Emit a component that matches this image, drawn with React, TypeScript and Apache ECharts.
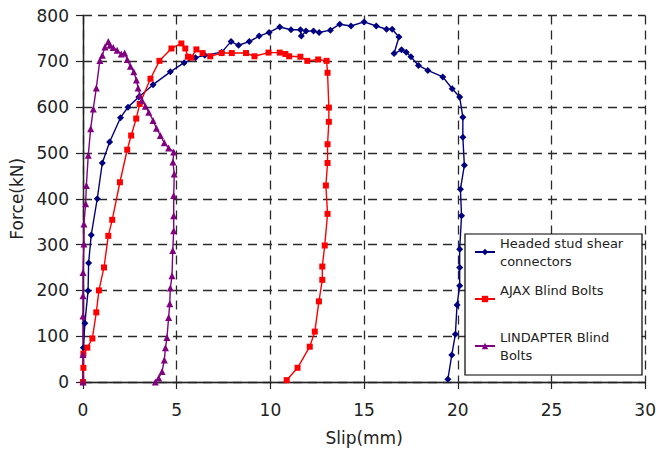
import React, { useEffect, useRef } from "react";
import * as echarts from "echarts";

const seriesNames = [
  "Headed stud shear connectors",
  "AJAX Blind Bolts",
  "LINDAPTER Blind Bolts",
];
const legendLines: Record<string, string> = {
  "Headed stud shear connectors": "Headed stud shear\nconnectors",
  "AJAX Blind Bolts": "AJAX Blind Bolts\n ",
  "LINDAPTER Blind Bolts": "LINDAPTER Blind\nBolts",
};
const seriesColors = ["#000080", "#ff0000", "#800080"];
const seriesSymbols = ["diamond", "rect", "triangle"];
const seriesSymbolSizes = [7, 6, 7];

const xTicks = { min: 0, max: 30, interval: 5 };
const yTicks = { min: 0, max: 800, interval: 100 };

// [slip (mm), force (kN)]
const headedStud = [
  [0, 0], [0.02, 75], [0.1, 128], [0.27, 199], [0.3, 260], [0.44, 321], [0.76, 400],
  [1.03, 478], [1.42, 524], [2.0, 577], [2.4, 600], [2.98, 622], [3.74, 649], [4.66, 677],
  [5.4, 697], [6.0, 708], [6.5, 713], [7.4, 720], [7.9, 743], [8.3, 735], [8.87, 743],
  [9.4, 755], [9.93, 763], [10.5, 775], [11.1, 769], [11.6, 769], [11.65, 755], [11.9, 766],
  [12.3, 766], [12.6, 763], [13.2, 768], [13.7, 781], [14.3, 777], [15.0, 786], [15.65, 777],
  [16.2, 770], [16.5, 770], [16.86, 753], [16.6, 717], [17.0, 725], [17.25, 720], [17.5, 710],
  [17.9, 691], [18.4, 680], [19.2, 666], [19.7, 640], [20.1, 622], [20.27, 578], [20.27, 534],
  [20.35, 473], [20.14, 421], [20.2, 363], [20.1, 290], [20.1, 250], [20.1, 210], [19.96, 168],
  [19.87, 104], [19.68, 59], [19.47, 6],
];

const ajaxBolts = [
  [0, 0], [0.02, 31], [0.02, 62], [0.23, 75], [0.5, 95], [0.71, 152], [0.85, 200],
  [1.12, 250], [1.35, 319], [1.56, 354], [1.97, 436], [2.36, 507], [2.57, 538], [2.84, 575],
  [3.03, 607], [3.6, 662], [4.08, 701], [4.72, 728], [5.25, 739], [5.46, 728], [5.6, 710],
  [5.78, 708], [6.05, 726], [6.38, 718], [6.79, 711], [7.4, 718], [7.94, 718], [8.7, 718],
  [9.15, 711], [9.9, 719], [10.5, 719], [10.8, 716], [11.0, 711], [11.6, 710], [11.97, 701],
  [12.55, 704], [13.0, 701], [13.05, 675], [13.12, 599], [13.12, 568], [13.05, 519],
  [13.05, 478], [12.96, 429], [13.05, 367], [12.9, 298], [12.77, 252], [12.77, 223],
  [12.59, 176], [12.37, 110], [12.1, 77], [11.45, 31], [10.87, 4],
];

const lindapterBolts = [
  [0, 0], [0, 60], [0.0, 144], [0.0, 188], [0.0, 239], [0.05, 301], [0.05, 345], [0.14, 389],
  [0.18, 429], [0.28, 495], [0.41, 553], [0.55, 596], [0.71, 642], [0.9, 702], [1.03, 713],
  [1.17, 731], [1.35, 743], [1.44, 735], [1.61, 730], [1.82, 724], [2.04, 716], [2.22, 718],
  [2.36, 704], [2.53, 689], [2.71, 677], [2.85, 659], [2.94, 642], [3.03, 626], [3.15, 615],
  [3.33, 602], [3.51, 589], [3.74, 571], [3.92, 554], [4.13, 538], [4.34, 522], [4.57, 511],
  [4.84, 502], [4.8, 480], [4.87, 454], [4.84, 407], [4.84, 363], [4.84, 330], [4.79, 287],
  [4.75, 232], [4.66, 205], [4.63, 171], [4.57, 141], [4.48, 97], [4.4, 75], [4.34, 48],
  [4.22, 23], [4.04, 9], [3.86, 0],
];

const allData = [headedStud, ajaxBolts, lindapterBolts];

const FONT = "DejaVu Sans";

export default function App() {
  const ref = useRef<HTMLDivElement>(null);
  useEffect(() => {
    if (!ref.current) return;
    const chart = echarts.init(ref.current, null, { renderer: "svg" });
    const labelStyle = { fontFamily: FONT, fontSize: 17, color: "#222" };
    const dashed = { color: "#2a2a2a", width: 1.3, type: [9, 6] };
    const hidden = {
      axisLine: { show: false },
      axisTick: { show: false },
      axisLabel: { show: false },
    };
    const frame = {
      axisLine: { show: true, lineStyle: { color: "#a0a0a0", width: 1.4 } },
      axisTick: { show: false },
      axisLabel: { show: false },
      splitLine: { show: false },
    };
    chart.setOption({
      animation: false,
      backgroundColor: "#fff",
      grid: { left: 83, right: 12, top: 15.5, bottom: 70 },
      graphic: [
        {
          type: "rect",
          z: 10,
          shape: { x: 465, y: 234, width: 177, height: 141 },
          style: { fill: "#fff", stroke: "#000", lineWidth: 1.2 },
        },
      ],
      legend: {
        orient: "vertical",
        left: 474,
        top: 225,
        padding: 0,
        itemGap: -7,
        itemWidth: 20,
        itemHeight: 8,
        z: 20,
        data: seriesNames,
        formatter: (name: string) => legendLines[name] ?? name,
        textStyle: {
          fontFamily: FONT,
          fontSize: 13,
          lineHeight: 18,
          color: "#222",
          padding: [18, 0, 0, 0],
        },
      },
      xAxis: [
        {
          type: "value",
          ...xTicks,
          position: "bottom",
          z: 4,
          name: "Slip(mm)",
          nameLocation: "middle",
          nameGap: 47,
          nameTextStyle: { ...labelStyle },
          axisLine: { lineStyle: { color: "#222", width: 1.4 } },
          axisTick: { show: true, length: 7, lineStyle: { color: "#222", width: 1.2 } },
          axisLabel: { ...labelStyle, margin: 19 },
          splitLine: { show: false },
        },
        { type: "value", ...xTicks, position: "top", z: 3, ...frame },
        {
          type: "value",
          ...xTicks,
          position: "bottom",
          z: 1,
          ...hidden,
          splitLine: { show: true, lineStyle: dashed },
        },
      ],
      yAxis: [
        {
          type: "value",
          ...yTicks,
          position: "left",
          z: 4,
          name: "Force(kN)",
          nameLocation: "middle",
          nameRotate: 90,
          nameGap: 46,
          nameTextStyle: { ...labelStyle },
          axisLine: { show: true, lineStyle: { color: "#222", width: 1.4 } },
          axisTick: { show: true, length: 7, lineStyle: { color: "#222", width: 1.2 } },
          axisLabel: { ...labelStyle, margin: 14 },
          splitLine: { show: false },
        },
        { type: "value", ...yTicks, position: "right", z: 3, ...frame },
        {
          type: "value",
          ...yTicks,
          position: "left",
          z: 1,
          ...hidden,
          splitLine: { show: true, lineStyle: dashed },
        },
      ],
      series: seriesNames.map((name, i) => ({
        name,
        type: "line",
        xAxisIndex: 0,
        yAxisIndex: 0,
        data: allData[i],
        z: 6,
        color: seriesColors[i],
        symbol: seriesSymbols[i],
        symbolSize: seriesSymbolSizes[i],
        showAllSymbol: true,
        lineStyle: { width: 1.4, color: seriesColors[i] },
        itemStyle: { color: seriesColors[i] },
      })),
    });
    return () => chart.dispose();
  }, []);
  return (
    <div
      ref={ref}
      style={{ position: "fixed", left: 0, top: 0, width: 659, height: 452 }}
    />
  );
}
